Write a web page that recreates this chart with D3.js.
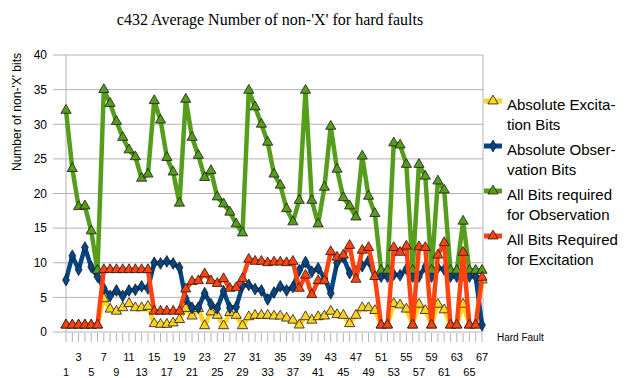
<!DOCTYPE html>
<html><head><meta charset="utf-8">
<script src="https://cdn.jsdelivr.net/npm/d3@7"></script>
<style>body{margin:0;background:#fff}svg{display:block}</style>
</head><body>
<svg id="c" width="630" height="378"></svg>
<script>
const categories = d3.range(1, 68);
const absExcitation = [1,1,1,1,1,1,4.8,3.3,3.0,3.5,4.1,3.5,3.5,3.7,1.2,1.1,1.1,1.3,1.8,3.4,2.3,3.4,0.9,2.9,2.4,0.9,2.8,2.4,0.9,2.2,2.4,2.4,2.4,2.3,2.3,2.0,1.7,1.0,2.2,1.7,2.2,2.3,3.0,2.5,2.4,1.2,2.4,3.5,3.5,3.1,1,1,4.1,3.9,3.3,1,4.0,3.1,1,4.0,3.2,1,1,4.0,1,1,7.5];
const absObservation = [7.5,11.0,9.0,12.2,9.4,8.0,6.3,5.2,6.0,5.2,6.0,6.1,6.6,6.3,10.0,9.9,10.2,9.9,9.3,4.8,3.5,3.5,5.6,4.0,3.4,5.9,3.5,3.6,6.7,6.8,6.2,6.0,4.7,5.7,6.6,6.0,6.5,8.9,10.1,8.7,9.2,7.8,5.6,10.0,10.8,8.5,8.8,9.5,10.3,8.0,8.0,8.0,8.3,8.2,9.1,8.0,8.0,9.4,8.0,9.3,9.0,8.0,8.0,8.2,8.0,8.0,1.0];
const allObservation = [32,23.6,18.1,18.2,14.6,8.9,35,33,30.4,28.1,26.3,25.3,22.2,22.8,33.4,30.6,25.2,23.1,18.6,33.6,28.1,25.5,22.3,23.3,19.5,18.5,17.3,15.6,14.3,34.9,32.5,30.0,27.4,22.8,21.2,17.8,15.9,19.0,34.9,19.0,15.6,20.9,29.7,23.5,19.4,18.2,16.6,25.4,19.6,17.1,8.9,8.9,27.3,27.0,24.2,8.9,24.2,22.5,8.9,21.8,20.5,8.9,8.9,16.0,8.9,8.9,8.9];
const allExcitation = [1,1,1,1,1,1,9,9,9,9,9,9,9,9,3,3,3,3,3,6.2,7.3,7.4,8.4,7.4,7.0,7.7,6.3,6.4,7.7,10.5,10.2,10.2,10.0,10.1,10.1,10.0,10.2,6.3,8.2,5.4,7.4,7.4,11.6,10.8,11.1,12.5,7.6,11.8,12.2,8.0,1,1,12.2,11.5,12.4,1,12.3,12.2,1,11.1,12.9,1,1,11.5,1,1,7.9];
const yTicks = [0,5,10,15,20,25,30,35,40];
const seriesNames = [["Absolute Excita-","tion Bits"],["Absolute Obser-","vation Bits"],["All Bits required","for Observation"],["All Bits Required","for Excitation"]];
const seriesColors = ["#ffd320","#004586","#579d1c","#ff420e"];

const svg = d3.select("#c");
const x = d3.scalePoint().domain(categories).range([66, 482]);
const y = d3.scaleLinear().domain([0, 40]).range([332, 55]);
const plotL = 53, plotR = 483;

// title
svg.append("text").attr("x", 270).attr("y", 25).attr("text-anchor", "middle")
  .attr("font-family", "Liberation Serif, Times New Roman, serif").attr("font-size", 16)
  .attr("fill", "#000").text("c432 Average Number of non-'X' for hard faults");

// gridlines
svg.append("g").selectAll("line").data(yTicks).join("line")
  .attr("x1", plotL).attr("x2", plotR).attr("y1", d => y(d)).attr("y2", d => y(d))
  .attr("stroke", "#b3b3b3").attr("stroke-width", 1);
svg.append("line").attr("x1", plotR).attr("x2", plotR).attr("y1", y(40)).attr("y2", y(0)).attr("stroke", "#b3b3b3");
svg.append("line").attr("x1", x(1)).attr("x2", x(1)).attr("y1", y(40)).attr("y2", y(0)).attr("stroke", "#b3b3b3");

// y axis labels
const yAxis = d3.axisLeft(y).tickValues(yTicks).tickSize(0).tickPadding(6);
const gy = svg.append("g").attr("transform", `translate(${plotL},0)`).call(yAxis);
gy.select(".domain").remove();
gy.selectAll("text").attr("font-family", "Liberation Sans, Arial, sans-serif").attr("font-size", 12).attr("fill", "#000");

// x axis ticks + staggered labels
const gx = svg.append("g").attr("transform", `translate(0,${y(0)})`);
gx.selectAll("line").data(categories).join("line")
  .attr("x1", d => x(d)).attr("x2", d => x(d)).attr("y1", 1).attr("y2", 10)
  .attr("stroke", "#b3b3b3");
gx.selectAll("text").data(categories.filter(d => d % 2 === 1)).join("text")
  .attr("x", d => x(d)).attr("y", (d, i) => i % 2 === 0 ? 44 : 29)
  .attr("text-anchor", "middle").attr("font-family", "Liberation Sans, Arial, sans-serif")
  .attr("font-size", 11).attr("fill", "#000").text(d => d);

svg.append("text").attr("x", 497).attr("y", 341).attr("font-family", "Liberation Sans, Arial, sans-serif")
  .attr("font-size", 10).attr("fill", "#000").text("Hard Fault");

// y axis title
svg.append("text").attr("transform", "translate(21,112) rotate(-90)").attr("text-anchor", "middle")
  .attr("font-family", "Liberation Sans, Arial, sans-serif").attr("font-size", 12).attr("fill", "#000")
  .text("Number of non-'X' bits");

const allSeries = [absExcitation, absObservation, allObservation, allExcitation];
const symbols = [d3.symbolTriangle, d3.symbolDiamond, d3.symbolTriangle, d3.symbolTriangle];
const line = d3.line().x((d, i) => x(categories[i])).y(d => y(d));

allSeries.forEach((vals, si) => {
  svg.append("path").datum(vals).attr("d", line).attr("fill", "none")
    .attr("stroke", seriesColors[si]).attr("stroke-width", 4.5).attr("stroke-linejoin", "round");
  svg.append("g").selectAll("path").data(vals).join("path")
    .attr("transform", (d, i) => `translate(${x(categories[i])},${y(d)})`)
    .attr("d", d3.symbol().type(symbols[si]).size(si === 1 ? 40 : 45))
    .attr("fill", seriesColors[si]).attr("stroke", "#1a1a1a").attr("stroke-width", 0.8);
});

// legend
const legY = [101, 146, 191, 236];
seriesNames.forEach((nm, i) => {
  const g = svg.append("g").attr("transform", `translate(0,${legY[i]})`);
  g.append("line").attr("x1", 484).attr("x2", 502).attr("y1", 0).attr("y2", 0)
    .attr("stroke", seriesColors[i]).attr("stroke-width", 5);
  g.append("path").attr("transform", "translate(493,0)")
    .attr("d", d3.symbol().type(symbols[i]).size(i === 1 ? 40 : 45))
    .attr("fill", seriesColors[i]).attr("stroke", "#1a1a1a").attr("stroke-width", 0.8);
  nm.forEach((t, j) => {
    g.append("text").attr("x", 507).attr("y", 9 + j * 20)
      .attr("font-family", "Liberation Sans, Arial, sans-serif").attr("font-size", 15)
      .attr("fill", "#000").text(t);
  });
});
</script>
</body></html>
